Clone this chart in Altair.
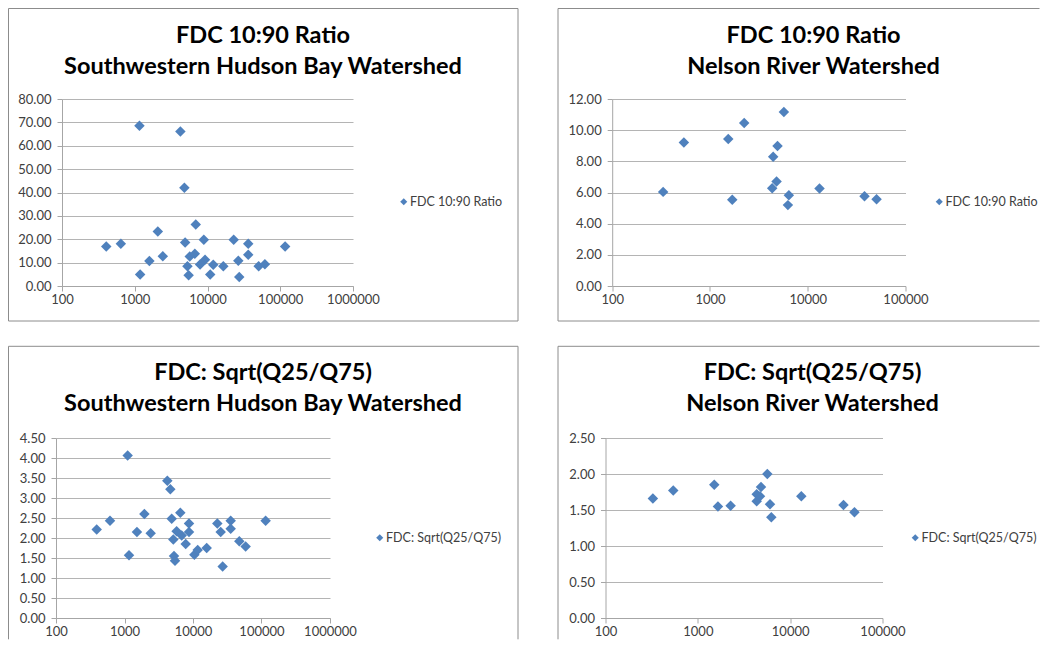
import altair as alt
import pandas as pd

# ---------------- data ----------------
# Southwestern Hudson Bay Watershed - FDC 10:90 ratio
swhb_area_a = [1160, 4240, 4810, 6890, 2075, 406, 644, 4930, 8900, 22900, 36300, 116700,
               36300, 2430, 1590, 1186, 5700, 6700, 5300, 5500, 7900, 9250, 10900, 12000,
               16500, 26500, 27300, 50500, 61500]
swhb_ratio = [68.6, 66.1, 42.0, 26.3, 23.3, 16.9, 18.1, 18.6, 19.8, 19.8, 18.1, 16.9,
              13.4, 12.7, 10.7, 4.9, 12.6, 13.8, 8.5, 4.6, 9.2, 11.2, 4.9, 9.1,
              8.5, 10.8, 3.9, 8.5, 9.3]

# Nelson River Watershed - FDC 10:90 ratio
nel_area_a = [332, 541, 1538, 1690, 2240, 5700, 4910, 4430, 4330, 4800, 6410, 6270,
              13200, 38100, 50600]
nel_ratio = [6.04, 9.21, 9.43, 5.53, 10.46, 11.16, 8.98, 8.29, 6.28, 6.71, 5.83, 5.19,
             6.26, 5.76, 5.57]

# Southwestern Hudson Bay Watershed - FDC sqrt(Q25/Q75)
swhb_area_b = [1112, 4220, 4670, 6530, 1950, 393, 614, 4890, 8750, 22650, 35500, 115000,
               35500, 25350, 1520, 2410, 1163, 5770, 5160, 6840, 8750, 7820, 5280, 5460,
               10470, 11700, 15850, 27100, 47400, 58700]
swhb_sqrt = [4.06, 3.43, 3.22, 2.63, 2.60, 2.21, 2.43, 2.48, 2.36, 2.36, 2.43, 2.43,
             2.23, 2.15, 2.15, 2.12, 1.57, 2.17, 1.96, 2.06, 2.15, 1.85, 1.55, 1.43,
             1.58, 1.70, 1.75, 1.29, 1.92, 1.79]

# Nelson River Watershed - FDC sqrt(Q25/Q75)
nel_area_b = [326, 542, 1507, 1651, 2265, 5660, 4830, 4340, 4340, 4710, 6050, 6250,
              13200, 37800, 49700]
nel_sqrt = [1.66, 1.77, 1.85, 1.55, 1.56, 2.00, 1.82, 1.72, 1.62, 1.69, 1.58, 1.40,
            1.69, 1.57, 1.47]

series_a = "FDC 10:90 Ratio"
series_b = "FDC: Sqrt(Q25/Q75)"
title_a = "FDC 10:90 Ratio"
title_b = "FDC: Sqrt(Q25/Q75)"
sub_swhb = "Southwestern Hudson Bay Watershed"
sub_nel = "Nelson River Watershed"

x_ticks_wide = [100, 1000, 10000, 100000, 1000000]
x_ticks_narrow = [100, 1000, 10000, 100000]
y_ticks_a_swhb = [0, 10, 20, 30, 40, 50, 60, 70, 80]
y_ticks_a_nel = [0, 2, 4, 6, 8, 10, 12]
y_ticks_b_swhb = [0, 0.5, 1.0, 1.5, 2.0, 2.5, 3.0, 3.5, 4.0, 4.5]
y_ticks_b_nel = [0, 0.5, 1.0, 1.5, 2.0, 2.5]

FONT = "Lato"
BLUE = "#4F81BD"
EDGE = "#8c8c8c"
ONE = pd.DataFrame({"k": [0]})


def hline(x0, x1, y):
    return alt.Chart(ONE).mark_rule(color=EDGE, strokeWidth=1).encode(
        x=alt.value(x0), x2=alt.value(x1), y=alt.value(y))


def vline(x, y0, y1):
    return alt.Chart(ONE).mark_rule(color=EDGE, strokeWidth=1).encode(
        x=alt.value(x), y=alt.value(y0), y2=alt.value(y1))


def panel(xs, ys, series, t1, t2, xticks, yticks, w, h, shift, edges, leg, tpos):
    """shift = distance of the plot's left edge from the panel view origin"""
    df = pd.DataFrame({"area": xs, "value": ys, "series": [series] * len(xs)})
    tx, ty1, ty2 = tpos
    line1 = alt.Chart(ONE).mark_text(font=FONT, fontSize=23.5, fontWeight="bold", color="black",
                                     align="center", baseline="middle").encode(
        x=alt.value(tx), y=alt.value(ty1), text=alt.value(t1))
    line2 = alt.Chart(ONE).mark_text(font=FONT, fontSize=23.5, fontWeight="bold", color="black",
                                     align="center", baseline="middle").encode(
        x=alt.value(tx), y=alt.value(ty2), text=alt.value(t2))
    pts = alt.Chart(df).mark_point(shape="diamond", filled=True, size=110, opacity=1).encode(
        x=alt.X("area:Q",
                scale=alt.Scale(type="log", domain=[xticks[0] * 0.9999, xticks[-1] * 1.0001],
                                range=[shift, w], nice=False),
                axis=alt.Axis(values=xticks, format="d", grid=False, title=None,
                              tickSize=5, labelPadding=2, labelFlush=False, labelOverlap=False)),
        y=alt.Y("value:Q",
                scale=alt.Scale(domain=[yticks[0], yticks[-1]], nice=False),
                axis=alt.Axis(values=yticks, format=".2f", grid=True, title=None,
                              tickSize=5, labelPadding=6, offset=-shift)),
        color=alt.Color("series:N", scale=alt.Scale(range=[BLUE]),
                        legend=alt.Legend(orient="none", legendX=leg[0] - 6.5, legendY=leg[1] - 6.5,
                                          title=None, symbolType="diamond", symbolSize=50,
                                          labelOffset=0,
                                          labelFont=FONT, labelFontSize=12.5, labelColor="#404040",
                                          padding=0)),
    )
    return alt.layer(*edges, line1, line2, pts).properties(width=w, height=h)


# panel frames (relative to each panel view origin)
tl_edges = [hline(-47.5, 462, -90.5), hline(-47.5, 462, 222), vline(-47.5, -90.5, 222), vline(462, -90.5, 222)]
tr_edges = [hline(-47.5, 434, -90.5), hline(-47.5, 434, 222), vline(-47.5, -90.5, 222)]
bl_edges = [hline(-47.5, 462, -91.7), vline(-47.5, -91.7, 201.3), vline(462, -91.7, 201.3)]
br_edges = [hline(-47.5, 434, -91.7), vline(-47.5, -91.7, 201.3)]

tl = panel(swhb_area_a, swhb_ratio, series_a, title_a, sub_swhb, x_ticks_wide, y_ticks_a_swhb,
           297, 187, 6, tl_edges, (348, 103), (207, -63, -32))
tr = panel(nel_area_a, nel_ratio, series_a, title_a, sub_nel, x_ticks_narrow, y_ticks_a_nel,
           300, 187, 6.7, tr_edges, (334, 103), (208, -63, -32))
bl = panel(swhb_area_b, swhb_sqrt, series_b, title_b, sub_swhb, x_ticks_wide, y_ticks_b_swhb,
           274, 180, 0, bl_edges, (324, 100), (207, -65, -34))
br = panel(nel_area_b, nel_sqrt, series_b, title_b, sub_nel, x_ticks_narrow, y_ticks_b_nel,
           277, 180, 0, br_edges, (310, 100), (207, -65, -34))

row1 = alt.hconcat(tl, tr, spacing=38.5).resolve_scale(color="independent")
row2 = alt.hconcat(bl, br, spacing=38.5).resolve_scale(color="independent")

chart = alt.vconcat(row1, row2, spacing=23).resolve_scale(color="independent").properties(
    padding=0
).configure_view(stroke=None).configure_axis(
    labelFont=FONT, labelFontSize=13, labelColor="#404040",
    domainColor="#a6a6a6", tickColor="#a6a6a6", gridColor="#b4b4b4",
    domainWidth=1, tickWidth=1, gridWidth=1,
)

chart.save("out.html", embed_options={"renderer": "svg", "actions": False})
